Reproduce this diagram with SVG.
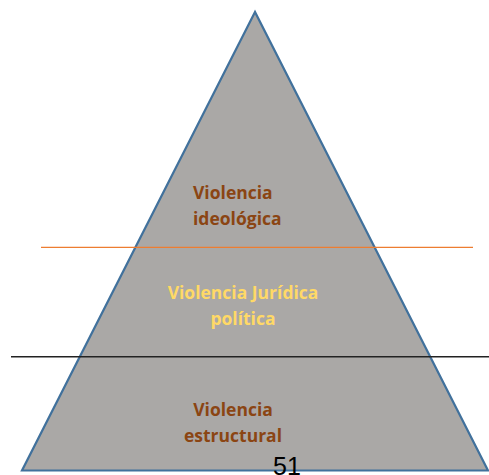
<svg xmlns="http://www.w3.org/2000/svg" width="489" height="475" viewBox="0 0 489 475">
<style>
.lbl{font-family:"Open Sans","Liberation Sans",sans-serif;font-weight:bold;font-size:17.5px}
.br{fill:#8B4513}
.yl{fill:#FFD966}
</style>
<rect width="489" height="475" fill="#ffffff"/>
<g id="pyramid">
<polygon points="255,12 22,470.5 488,470.5" fill="#AAA8A6" stroke="#41719C" stroke-width="2.2" stroke-linejoin="miter"/>
</g>
<g id="connectors">
<line x1="41" y1="247.3" x2="473" y2="247.3" stroke="#ED7D31" stroke-width="1.3"/>
<line x1="11" y1="356.7" x2="489" y2="356.7" stroke="#222222" stroke-width="1.6"/>
</g>
<g id="ideologica">
<text class="lbl br" x="193" y="199">Violencia</text>
<text class="lbl br" x="193" y="225">ideológica</text>
</g>
<g id="juridica">
<text class="lbl yl" x="243" y="299" text-anchor="middle">Violencia Jurídica</text>
<text class="lbl yl" x="243" y="325" text-anchor="middle">política</text>
</g>
<g id="estructural">
<text class="lbl br" x="233" y="416" text-anchor="middle">Violencia</text>
<text class="lbl br" x="233" y="442" text-anchor="middle">estructural</text>
</g>
<text x="287" y="475" text-anchor="middle" font-family="'Liberation Sans',sans-serif" font-size="25" fill="#000000">51</text>
</svg>
